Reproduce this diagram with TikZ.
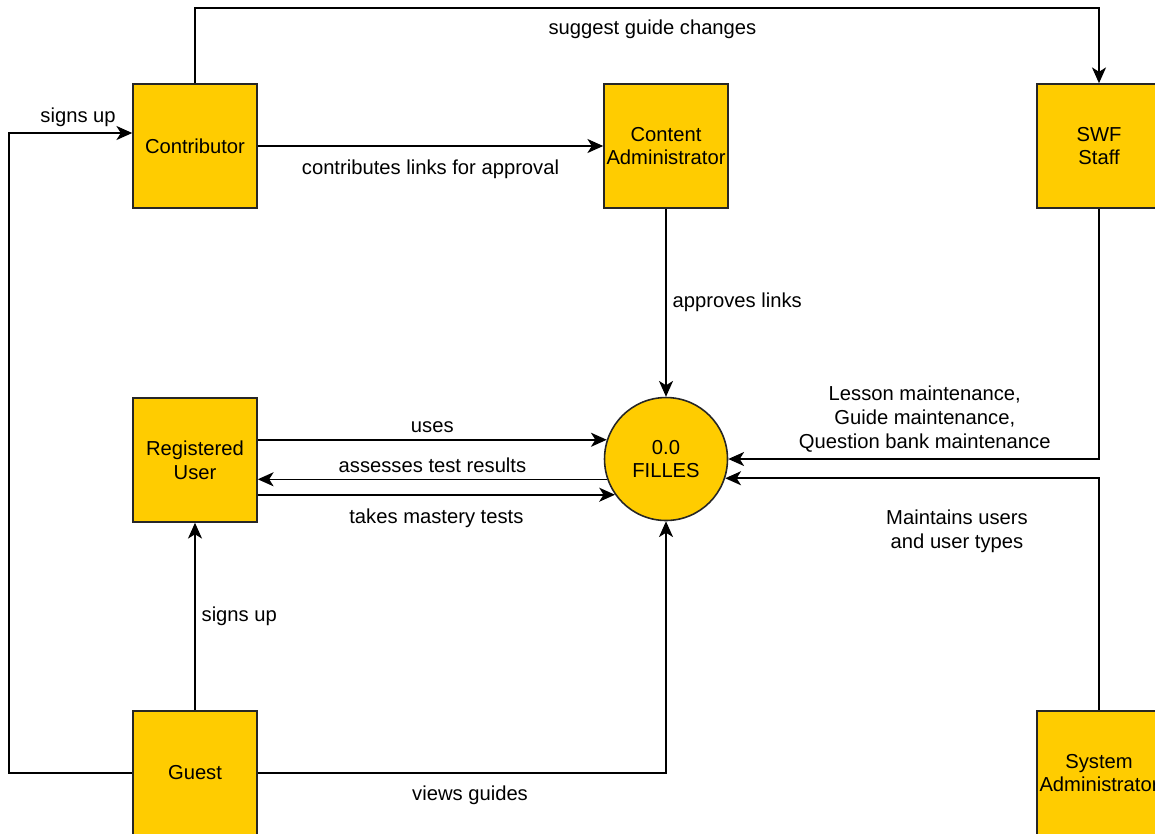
\documentclass[tikz,border=0pt]{standalone}
\usepackage{fontspec}
\setmainfont{Liberation Sans}
\usetikzlibrary{arrows.meta}
\definecolor{dfdyellow}{HTML}{FFCC00}

\begin{document}
\begin{tikzpicture}[x=0.02cm, y=-0.02cm,
	font=\fontsize{11.5}{13.6}\selectfont,
	entity/.style={draw=black!85, line width=0.9pt, fill=dfdyellow, minimum size=2.48cm, inner sep=0pt, align=center},
	process/.style={circle, draw=black!85, line width=0.9pt, fill=dfdyellow, minimum size=2.46cm, inner sep=0pt, align=center},
	flow/.style={line width=0.9pt, -{Stealth[length=9pt, width=8pt, inset=2.5pt]}},
	lbl/.style={align=center}]
	%Fix picture size
	\useasboundingbox (0,0) rectangle (1155,833);

	%Draw entities
	\node[entity]  (contrib)  at (195,146)  {Contributor};
	\node[entity]  (cadmin)   at (666,146)  {Content\\Administrator};
	\node[entity]  (swf)      at (1099,146) {SWF\\Staff};
	\node[entity]  (reguser)  at (195,460)  {Registered\\User};
	\node[entity]  (guest)    at (195,773)  {Guest};
	\node[entity]  (sysadmin) at (1099,773) {System\\Administrator};
	%Draw process
	\node[process] (filles)   at (666,459)  {0.0\\FILLES};

	%Draw flows of contributor and content administrator
	\draw[flow] (contrib.north) -- ++(0,-75) -| node[lbl, pos=0.253, below=3pt] {suggest guide changes} (swf.north);
	\draw[flow] (contrib) -- node[lbl, below=4pt] {contributes links for approval} (cadmin);
	\draw[flow] (cadmin) -- node[lbl, right] {approves links} (filles);
	%Draw flows of staff
	\draw[flow] (swf.south) |- node[lbl, pos=0.735, above] {Lesson maintenance,\\Guide maintenance,\\Question bank maintenance} (filles);
	\draw[flow] (sysadmin.north) |- node[lbl, pos=0.69, below=14pt] {Maintains users\\and user types} (filles.-18);
	%Draw flows of registered user
	\draw[flow] (reguser.east |- filles.162) -- node[lbl, above] {uses} (filles.162);
	\draw[flow] (filles.199) -- node[lbl, above] {assesses test results} (reguser.east |- filles.199);
	\draw[flow] (reguser.east |- filles.215) -- node[lbl, below=4pt] {takes mastery tests} (filles.215);
	%Draw flows of guest
	\draw[flow] (guest) -- node[lbl, right] {signs up} (reguser);
	\draw[flow] (guest.east) -| node[lbl, pos=0.26, below=3.5pt] {views guides} (filles.south);
	\draw[flow] (guest.west) -- ++(-123,0) |- node[lbl, pos=0.78, above] {signs up} ([yshift=0.26cm]contrib.west);
	%
\end{tikzpicture}
\end{document}
